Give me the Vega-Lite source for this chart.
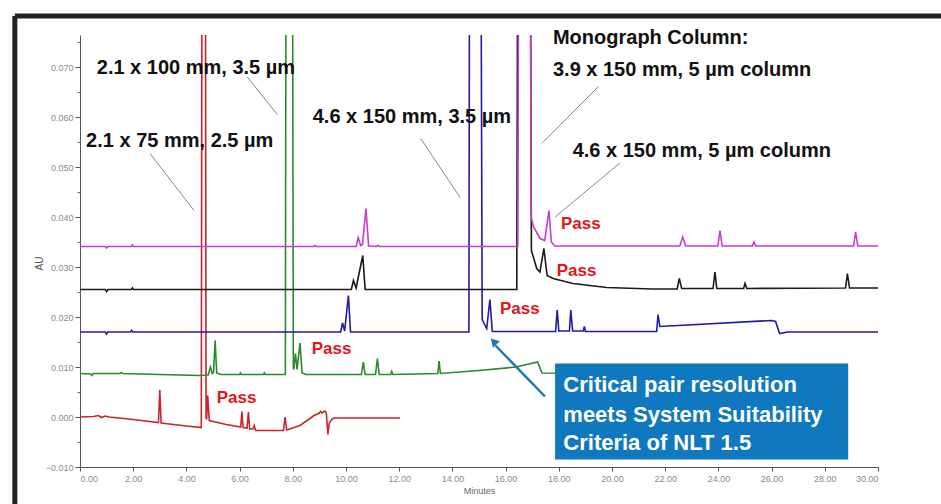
{
  "$schema": "https://vega.github.io/schema/vega-lite/v6.json",
  "width": 798,
  "height": 432,
  "autosize": {"type": "none"},
  "padding": {"left": 80, "top": 35, "right": 63, "bottom": 37},
  "background": "white",
  "config": {"view": {"stroke": null}, "font": "Liberation Sans"},
  "datasets": {
    "traces": [
      {"s":"red","t":0,"v":0.0000},{"s":"red","t":0.5,"v":0.0001},{"s":"red","t":0.7,"v":0.0003},{"s":"red","t":0.8,"v":-0.0001},{"s":"red","t":0.95,"v":0.0002},{"s":"red","t":1.1,"v":0.0000},{"s":"red","t":2.0,"v":-0.0005},{"s":"red","t":2.95,"v":-0.0011},{"s":"red","t":3.0,"v":0.0054},{"s":"red","t":3.05,"v":-0.0012},{"s":"red","t":4.0,"v":-0.0018},{"s":"red","t":4.56,"v":-0.0021},{"s":"red","t":4.6,"v":0.15},{"s":"red","t":4.65,"v":0.3},{"s":"red","t":4.7,"v":0.15},{"s":"red","t":4.74,"v":0.0},{"s":"red","t":4.76,"v":-0.0005},{"s":"red","t":4.8,"v":0.0043},{"s":"red","t":4.86,"v":-0.0007},{"s":"red","t":5.5,"v":-0.0015},{"s":"red","t":6.04,"v":-0.002},{"s":"red","t":6.09,"v":0.0011},{"s":"red","t":6.13,"v":-0.0021},{"s":"red","t":6.28,"v":-0.0022},{"s":"red","t":6.33,"v":0.0010},{"s":"red","t":6.38,"v":-0.0024},{"s":"red","t":6.5,"v":-0.0024},{"s":"red","t":6.55,"v":-0.0017},{"s":"red","t":6.6,"v":-0.0027},{"s":"red","t":7.65,"v":-0.0027},{"s":"red","t":7.71,"v":0.0000},{"s":"red","t":7.77,"v":-0.0026},{"s":"red","t":8.27,"v":-0.0017},{"s":"red","t":8.8,"v":0.0003},{"s":"red","t":9.0,"v":0.0008},{"s":"red","t":9.05,"v":0.0011},{"s":"red","t":9.1,"v":0.0008},{"s":"red","t":9.21,"v":0.0012},{"s":"red","t":9.26,"v":0.0008},{"s":"red","t":9.32,"v":-0.0035},{"s":"red","t":9.37,"v":-0.0012},{"s":"red","t":9.5,"v":-0.0003},{"s":"red","t":9.6,"v":-0.0002},{"s":"red","t":12.03,"v":-0.0002},

      {"s":"green","t":0,"v":0.0087},{"s":"green","t":0.4,"v":0.0086},{"s":"green","t":0.45,"v":0.0083},{"s":"green","t":0.5,"v":0.0087},{"s":"green","t":1.5,"v":0.0087},{"s":"green","t":1.55,"v":0.0089},{"s":"green","t":1.6,"v":0.0087},{"s":"green","t":3.0,"v":0.0085},{"s":"green","t":4.5,"v":0.0083},{"s":"green","t":4.82,"v":0.0084},{"s":"green","t":4.9,"v":0.0100},{"s":"green","t":4.97,"v":0.0087},{"s":"green","t":5.02,"v":0.0089},{"s":"green","t":5.08,"v":0.0153},{"s":"green","t":5.14,"v":0.0088},{"s":"green","t":5.3,"v":0.0085},{"s":"green","t":6.0,"v":0.0085},{"s":"green","t":6.03,"v":0.0088},{"s":"green","t":6.06,"v":0.0085},{"s":"green","t":6.9,"v":0.0085},{"s":"green","t":6.93,"v":0.0088},{"s":"green","t":6.96,"v":0.0085},{"s":"green","t":7.72,"v":0.0085},{"s":"green","t":7.76,"v":0.15},{"s":"green","t":7.86,"v":0.3},{"s":"green","t":7.97,"v":0.15},{"s":"green","t":8.02,"v":0.0098},{"s":"green","t":8.04,"v":0.0095},{"s":"green","t":8.1,"v":0.0127},{"s":"green","t":8.16,"v":0.0095},{"s":"green","t":8.27,"v":0.0148},{"s":"green","t":8.35,"v":0.0088},{"s":"green","t":8.5,"v":0.0085},{"s":"green","t":10.58,"v":0.0085},{"s":"green","t":10.65,"v":0.0110},{"s":"green","t":10.72,"v":0.0085},{"s":"green","t":11.11,"v":0.0085},{"s":"green","t":11.18,"v":0.0117},{"s":"green","t":11.25,"v":0.0085},{"s":"green","t":11.68,"v":0.0085},{"s":"green","t":11.72,"v":0.0091},{"s":"green","t":11.76,"v":0.0085},{"s":"green","t":13.45,"v":0.0087},{"s":"green","t":13.5,"v":0.0112},{"s":"green","t":13.55,"v":0.0087},{"s":"green","t":15.0,"v":0.0093},{"s":"green","t":16.4,"v":0.0100},{"s":"green","t":17.2,"v":0.0110},{"s":"green","t":17.37,"v":0.0088},{"s":"green","t":19.5,"v":0.0087},

      {"s":"blue","t":0,"v":0.0170},{"s":"blue","t":0.95,"v":0.0170},{"s":"blue","t":1.0,"v":0.0166},{"s":"blue","t":1.05,"v":0.0170},{"s":"blue","t":1.9,"v":0.0170},{"s":"blue","t":1.94,"v":0.0173},{"s":"blue","t":1.98,"v":0.0170},{"s":"blue","t":9.8,"v":0.0170},{"s":"blue","t":9.87,"v":0.0188},{"s":"blue","t":9.95,"v":0.0172},{"s":"blue","t":10.09,"v":0.0243},{"s":"blue","t":10.17,"v":0.0170},{"s":"blue","t":14.62,"v":0.0170},{"s":"blue","t":14.66,"v":0.15},{"s":"blue","t":14.85,"v":0.35},{"s":"blue","t":15.04,"v":0.15},{"s":"blue","t":15.12,"v":0.0195},{"s":"blue","t":15.29,"v":0.0177},{"s":"blue","t":15.41,"v":0.0235},{"s":"blue","t":15.5,"v":0.0171},{"s":"blue","t":17.88,"v":0.0171},{"s":"blue","t":17.94,"v":0.0214},{"s":"blue","t":18.0,"v":0.0172},{"s":"blue","t":18.4,"v":0.0172},{"s":"blue","t":18.45,"v":0.0214},{"s":"blue","t":18.52,"v":0.0172},{"s":"blue","t":18.92,"v":0.0172},{"s":"blue","t":18.96,"v":0.0181},{"s":"blue","t":19.0,"v":0.0171},{"s":"blue","t":21.68,"v":0.0171},{"s":"blue","t":21.73,"v":0.0205},{"s":"blue","t":21.8,"v":0.0181},{"s":"blue","t":26.0,"v":0.0193},{"s":"blue","t":26.15,"v":0.0191},{"s":"blue","t":26.3,"v":0.0167},{"s":"blue","t":26.6,"v":0.0170},{"s":"blue","t":30,"v":0.0170},

      {"s":"black","t":0,"v":0.0255},{"s":"black","t":0.95,"v":0.0255},{"s":"black","t":1.0,"v":0.0251},{"s":"black","t":1.05,"v":0.0255},{"s":"black","t":1.93,"v":0.0255},{"s":"black","t":1.97,"v":0.0258},{"s":"black","t":2.01,"v":0.0255},{"s":"black","t":10.2,"v":0.0255},{"s":"black","t":10.28,"v":0.0273},{"s":"black","t":10.38,"v":0.0258},{"s":"black","t":10.63,"v":0.0323},{"s":"black","t":10.72,"v":0.0255},{"s":"black","t":16.42,"v":0.0255},{"s":"black","t":16.48,"v":0.15},{"s":"black","t":16.7,"v":0.35},{"s":"black","t":16.9,"v":0.15},{"s":"black","t":16.97,"v":0.0333},{"s":"black","t":17.17,"v":0.0297},{"s":"black","t":17.29,"v":0.0290},{"s":"black","t":17.44,"v":0.0337},{"s":"black","t":17.56,"v":0.0283},{"s":"black","t":17.79,"v":0.0277},{"s":"black","t":18.53,"v":0.0267},{"s":"black","t":19.8,"v":0.0259},{"s":"black","t":21.5,"v":0.0256},{"s":"black","t":22.45,"v":0.0256},{"s":"black","t":22.53,"v":0.0277},{"s":"black","t":22.62,"v":0.0257},{"s":"black","t":23.8,"v":0.0257},{"s":"black","t":23.87,"v":0.0290},{"s":"black","t":23.94,"v":0.0257},{"s":"black","t":24.95,"v":0.0257},{"s":"black","t":25.0,"v":0.0267},{"s":"black","t":25.07,"v":0.0257},{"s":"black","t":28.78,"v":0.0258},{"s":"black","t":28.85,"v":0.0287},{"s":"black","t":28.93,"v":0.0258},{"s":"black","t":30,"v":0.0258},

      {"s":"magenta","t":0,"v":0.0341},{"s":"magenta","t":0.95,"v":0.0341},{"s":"magenta","t":1.0,"v":0.0338},{"s":"magenta","t":1.05,"v":0.0341},{"s":"magenta","t":1.93,"v":0.0341},{"s":"magenta","t":1.97,"v":0.0344},{"s":"magenta","t":2.01,"v":0.0341},{"s":"magenta","t":8.78,"v":0.0341},{"s":"magenta","t":8.83,"v":0.0343},{"s":"magenta","t":8.88,"v":0.0341},{"s":"magenta","t":10.38,"v":0.0341},{"s":"magenta","t":10.46,"v":0.0359},{"s":"magenta","t":10.55,"v":0.0343},{"s":"magenta","t":10.62,"v":0.0345},{"s":"magenta","t":10.75,"v":0.0417},{"s":"magenta","t":10.85,"v":0.0342},{"s":"magenta","t":11.15,"v":0.0341},{"s":"magenta","t":11.2,"v":0.0343},{"s":"magenta","t":11.25,"v":0.0341},{"s":"magenta","t":16.46,"v":0.0341},{"s":"magenta","t":16.52,"v":0.15},{"s":"magenta","t":16.72,"v":0.35},{"s":"magenta","t":16.9,"v":0.15},{"s":"magenta","t":16.96,"v":0.0400},{"s":"magenta","t":17.05,"v":0.0380},{"s":"magenta","t":17.3,"v":0.0357},{"s":"magenta","t":17.47,"v":0.0353},{"s":"magenta","t":17.63,"v":0.0413},{"s":"magenta","t":17.72,"v":0.0350},{"s":"magenta","t":17.85,"v":0.0342},{"s":"magenta","t":22.55,"v":0.0342},{"s":"magenta","t":22.66,"v":0.0360},{"s":"magenta","t":22.77,"v":0.0342},{"s":"magenta","t":23.98,"v":0.0342},{"s":"magenta","t":24.06,"v":0.0373},{"s":"magenta","t":24.14,"v":0.0342},{"s":"magenta","t":25.28,"v":0.0342},{"s":"magenta","t":25.34,"v":0.0350},{"s":"magenta","t":25.4,"v":0.0342},{"s":"magenta","t":29.08,"v":0.0342},{"s":"magenta","t":29.16,"v":0.0370},{"s":"magenta","t":29.24,"v":0.0342},{"s":"magenta","t":30.05,"v":0.0342}
    ],
    "leaders": [
      {"x1":2.63,"y1":0.0527,"x2":4.29,"y2":0.0413},
      {"x1":6.29,"y1":0.0680,"x2":7.42,"y2":0.0605},
      {"x1":12.81,"y1":0.0557,"x2":14.29,"y2":0.0439},
      {"x1":19.49,"y1":0.0661,"x2":17.36,"y2":0.0547},
      {"x1":20.3,"y1":0.0508,"x2":17.86,"y2":0.0400}
    ],
    "labels": [
      {"t":17.78,"v":0.0747,"text":"Monograph Column:"},
      {"t":17.78,"v":0.0683,"text":"3.9 x 150 mm, 5 µm column"},
      {"t":18.52,"v":0.0520,"text":"4.6 x 150 mm, 5 µm column"},
      {"t":0.63,"v":0.0687,"text":"2.1 x 100  mm, 3.5 µm"},
      {"t":0.23,"v":0.0540,"text":"2.1 x 75 mm, 2.5 µm"},
      {"t":8.75,"v":0.0589,"text":"4.6 x 150 mm, 3.5 µm"}
    ],
    "pass": [
      {"t":5.14,"v":0.0028,"text":"Pass"},
      {"t":8.71,"v":0.0127,"text":"Pass"},
      {"t":15.79,"v":0.0207,"text":"Pass"},
      {"t":17.92,"v":0.0283,"text":"Pass"},
      {"t":18.08,"v":0.0377,"text":"Pass"}
    ],
    "box": [{"x1":17.86,"x2":28.88,"y1":0.0107,"y2":-0.0085}],
    "boxtext": [
      {"t":18.17,"v":0.0050,"text":"Critical pair resolution"},
      {"t":18.17,"v":-0.0010,"text":"meets System Suitability"},
      {"t":18.17,"v":-0.0065,"text":"Criteria of NLT 1.5"}
    ],
    "arrow": [{"x1":17.48,"y1":0.0041,"x2":15.62,"y2":0.0143}],
    "arrowhead": [{"t":15.55,"v":0.0151}],
    "frame": [
      {"x1":-2.45,"x2":33.5,"y1":0.0802,"y2":0.0802},
      {"x1":-2.45,"x2":-2.45,"y1":0.0802,"y2":-0.02}
    ],
    "minor": [{"v":-0.005},{"v":0.005},{"v":0.015},{"v":0.025},{"v":0.035},{"v":0.045},{"v":0.055},{"v":0.065},{"v":0.075}]
  },
  "layer": [
    {
      "data": {"name": "traces"},
      "mark": {"type": "line", "strokeWidth": 1.6, "clip": true, "interpolate": "linear"},
      "encoding": {
        "x": {"field": "t", "type": "quantitative",
          "scale": {"domain": [0, 30], "nice": false, "zero": false},
          "axis": {"values": [0,2,4,6,8,10,12,14,16,18,20,22,24,26,28,30], "format": ".2f", "title": "Minutes",
            "labelColor": "#8a8a8a", "labelFontSize": 9, "labelPadding": 3, "tickSize": 4, "tickColor": "#555", "domainColor": "#555",
            "titleColor": "#666", "titleFontSize": 9, "titleFontWeight": "normal", "titlePadding": 3, "grid": false}},
        "y": {"field": "v", "type": "quantitative",
          "scale": {"domain": [-0.01, 0.0764], "nice": false, "zero": false},
          "axis": {"values": [-0.01,0,0.01,0.02,0.03,0.04,0.05,0.06,0.07], "format": ".3f", "title": "AU",
            "labelColor": "#8a8a8a", "labelFontSize": 9, "labelPadding": 2, "tickSize": 5, "tickColor": "#555", "domainColor": "#555",
            "titleColor": "#555", "titleFontSize": 10, "titleFontWeight": "normal", "titleX": -36, "titleY": 228, "grid": false}},
        "color": {"field": "s", "type": "nominal", "legend": null,
          "scale": {"domain": ["red","green","blue","black","magenta"], "range": ["#c8252b","#2a8a2a","#1c1ca6","#1a1a1a","#c23fc8"]}},
        "detail": {"field": "s"}
      }
    },
    {
      "data": {"name": "minor"},
      "mark": {"type": "tick", "opacity": 0},
      "encoding": {
        "y": {"field": "v", "type": "quantitative",
          "axis": {"orient": "left", "values": [-0.005,0.005,0.015,0.025,0.035,0.045,0.055,0.065,0.075], "labels": false, "domain": false, "title": null, "tickSize": 3, "tickColor": "#666", "grid": false}}
      }
    },
    {
      "data": {"name": "leaders"},
      "mark": {"type": "rule", "color": "#6f918b", "strokeWidth": 1},
      "encoding": {
        "x": {"field": "x1", "type": "quantitative"},
        "y": {"field": "y1", "type": "quantitative", "axis": null},
        "x2": {"field": "x2"},
        "y2": {"field": "y2"}
      }
    },
    {
      "data": {"name": "labels"},
      "mark": {"type": "text", "align": "left", "baseline": "alphabetic", "fontSize": 20, "fontWeight": "bold", "font": "Liberation Sans", "color": "#111"},
      "encoding": {
        "x": {"field": "t", "type": "quantitative"},
        "y": {"field": "v", "type": "quantitative", "axis": null},
        "text": {"field": "text"}
      }
    },
    {
      "data": {"name": "pass"},
      "mark": {"type": "text", "align": "left", "baseline": "alphabetic", "fontSize": 17, "fontWeight": "bold", "font": "Liberation Sans", "color": "#e0161b"},
      "encoding": {
        "x": {"field": "t", "type": "quantitative"},
        "y": {"field": "v", "type": "quantitative", "axis": null},
        "text": {"field": "text"}
      }
    },
    {
      "data": {"name": "box"},
      "mark": {"type": "rect", "color": "#0f78bf"},
      "encoding": {
        "x": {"field": "x1", "type": "quantitative"},
        "x2": {"field": "x2"},
        "y": {"field": "y1", "type": "quantitative", "axis": null},
        "y2": {"field": "y2"}
      }
    },
    {
      "data": {"name": "boxtext"},
      "mark": {"type": "text", "align": "left", "baseline": "alphabetic", "fontSize": 22, "fontWeight": "bold", "font": "Liberation Sans", "color": "white"},
      "encoding": {
        "x": {"field": "t", "type": "quantitative"},
        "y": {"field": "v", "type": "quantitative", "axis": null},
        "text": {"field": "text"}
      }
    },
    {
      "data": {"name": "arrow"},
      "mark": {"type": "rule", "color": "#1f78b8", "strokeWidth": 2.5},
      "encoding": {
        "x": {"field": "x1", "type": "quantitative"},
        "y": {"field": "y1", "type": "quantitative", "axis": null},
        "x2": {"field": "x2"},
        "y2": {"field": "y2"}
      }
    },
    {
      "data": {"name": "arrowhead"},
      "mark": {"type": "point", "shape": "triangle-up", "filled": true, "color": "#1f78b8", "size": 90, "opacity": 1, "angle": 317},
      "encoding": {
        "x": {"field": "t", "type": "quantitative"},
        "y": {"field": "v", "type": "quantitative", "axis": null}
      }
    },
    {
      "data": {"name": "frame"},
      "mark": {"type": "rule", "color": "#222", "strokeWidth": 5},
      "encoding": {
        "x": {"field": "x1", "type": "quantitative"},
        "y": {"field": "y1", "type": "quantitative", "axis": null},
        "x2": {"field": "x2"},
        "y2": {"field": "y2"}
      }
    }
  ],
  "resolve": {"axis": {"y": "independent"}}
}
